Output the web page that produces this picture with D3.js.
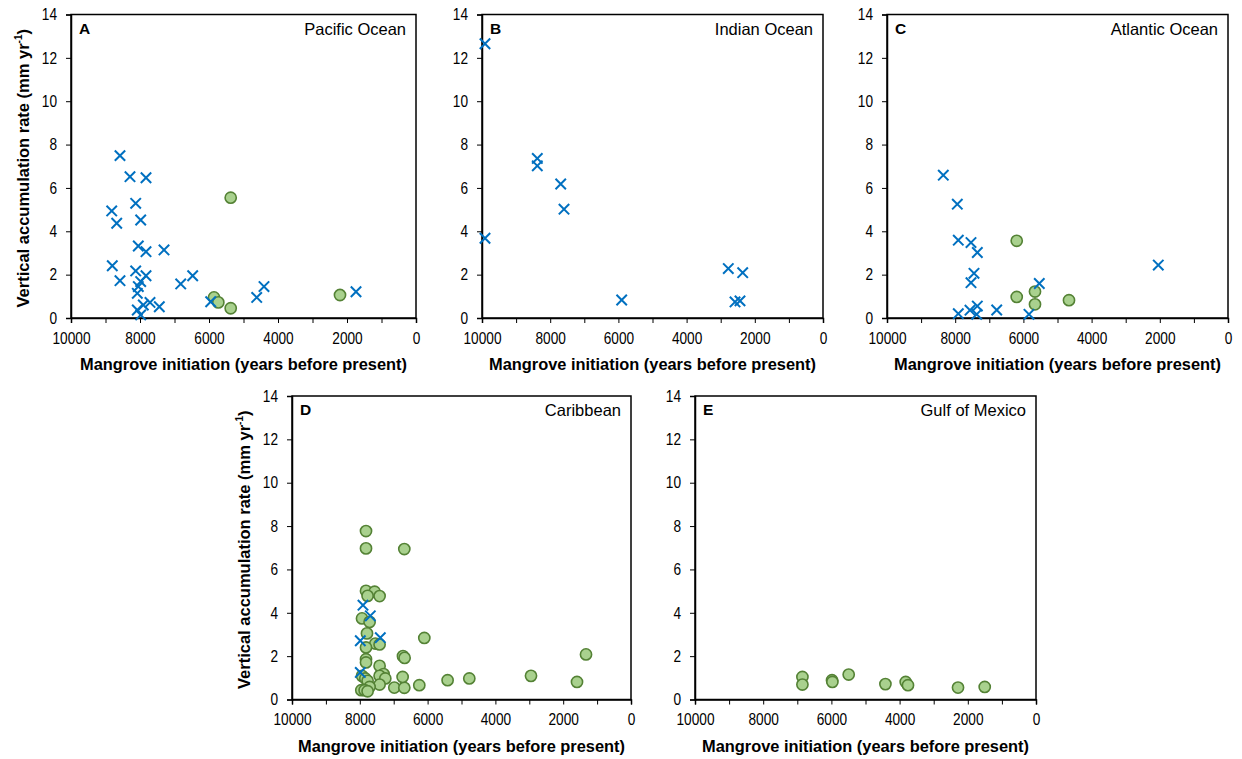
<!DOCTYPE html>
<html>
<head>
<meta charset="utf-8">
<script src="https://cdn.jsdelivr.net/npm/d3@7"></script>
<style>
  body { margin: 0; background: #fff; }
  svg { display: block; }
  text { font-family: "Liberation Sans", Arial, sans-serif; }
</style>
</head>
<body>
<svg id="chart" width="1242" height="759"></svg>
<script>
// ---- Data (years before present, mm/yr) ----
const panelLetters = ["A", "B", "C", "D", "E"];
const regionNames = ["Pacific Ocean", "Indian Ocean", "Atlantic Ocean", "Caribbean", "Gulf of Mexico"];
const xTickValues = [10000, 9000, 8000, 7000, 6000, 5000, 4000, 3000, 2000, 1000, 0];
const yTickValues = [0, 2, 4, 6, 8, 10, 12, 14];

// Pacific Ocean
const pacificCrossAge  = [8580, 8290, 7826, 8125, 8820, 8675, 7980, 8049, 7826, 7304, 8803, 8580, 8125, 7826, 7980, 8049, 8078, 7710, 7904, 8078, 7980, 7440, 6820, 6473, 5951, 4617, 4406, 1739];
const pacificCrossRate = [7.49, 6.52, 6.47, 5.29, 4.94, 4.37, 4.52, 3.32, 3.06, 3.14, 2.41, 1.72, 2.17, 1.95, 1.68, 1.45, 1.14, 0.72, 0.60, 0.37, 0.14, 0.52, 1.57, 1.95, 0.75, 0.95, 1.45, 1.21];
const pacificCircleAge  = [5371, 5855, 5730, 5371, 2203];
const pacificCircleRate = [5.55, 0.95, 0.72, 0.45, 1.06];

// Indian Ocean
const indianCrossAge  = [9912, 9912, 8378, 8378, 7692, 7595, 5904, 2777, 2355, 2580, 2434];
const indianCrossRate = [12.65, 3.68, 7.36, 7.02, 6.18, 5.02, 0.83, 2.28, 2.09, 0.74, 0.79];
const indianCircleAge  = [];
const indianCircleRate = [];

// Atlantic Ocean
const atlanticCrossAge  = [8349, 7938, 7909, 7537, 7351, 7449, 7537, 5534, 2044, 7909, 7566, 7351, 7370, 6783, 5836];
const atlanticCrossRate = [6.59, 5.25, 3.59, 3.48, 3.02, 2.06, 1.63, 1.59, 2.44, 0.20, 0.36, 0.55, 0.17, 0.37, 0.17];
const atlanticCircleAge  = [6196, 6196, 5660, 5660, 4663];
const atlanticCircleRate = [3.56, 0.97, 1.22, 0.63, 0.82];

// Caribbean
const caribbeanCrossAge  = [7906, 7690, 7985, 7395, 7985];
const caribbeanCrossRate = [4.35, 3.86, 2.71, 2.85, 1.25];
const caribbeanCircleAge  = [7817, 7817, 6687, 7817, 7563, 7770, 7416, 7935, 7711, 7788, 7543, 7416, 7817, 6097, 7817, 7817, 7416, 6726, 6678, 7298, 7416, 7248, 7935, 7838, 7770, 7416, 7711, 7956, 7858, 7770, 6982, 6687, 6737, 6245, 5410, 4770, 2950, 1593, 1327];
const caribbeanCircleRate = [7.77, 6.97, 6.94, 5.01, 4.97, 4.78, 4.77, 3.74, 3.58, 3.05, 2.58, 2.54, 2.40, 2.84, 1.86, 1.71, 1.55, 2.00, 1.92, 1.17, 1.09, 0.97, 1.09, 0.97, 0.86, 0.69, 0.58, 0.43, 0.43, 0.38, 0.55, 0.54, 1.04, 0.66, 0.89, 0.97, 1.09, 0.81, 2.08];

// Gulf of Mexico
const gulfCrossAge  = [];
const gulfCrossRate = [];
const gulfCircleAge  = [6850, 6850, 5982, 5971, 5493, 4416, 3821, 3754, 2287, 1504];
const gulfCircleRate = [1.04, 0.69, 0.89, 0.81, 1.15, 0.71, 0.81, 0.66, 0.55, 0.58];

const crossAges  = [pacificCrossAge, indianCrossAge, atlanticCrossAge, caribbeanCrossAge, gulfCrossAge];
const crossRates = [pacificCrossRate, indianCrossRate, atlanticCrossRate, caribbeanCrossRate, gulfCrossRate];
const circleAges  = [pacificCircleAge, indianCircleAge, atlanticCircleAge, caribbeanCircleAge, gulfCircleAge];
const circleRates = [pacificCircleRate, indianCircleRate, atlanticCircleRate, caribbeanCircleRate, gulfCircleRate];

// ---- Layout ----
const frames = [
  {x0: 71,  x1: 416,  y0: 14.5, y1: 318,   ylabel: true},
  {x0: 482, x1: 823,  y0: 14.5, y1: 318,   ylabel: false},
  {x0: 887, x1: 1228, y0: 14.5, y1: 318,   ylabel: false},
  {x0: 292, x1: 631,  y0: 396,  y1: 699.5, ylabel: true},
  {x0: 695, x1: 1036, y0: 396,  y1: 699.5, ylabel: false}
];

const svg = d3.select("#chart");
const blue = "#0070C0";
const greenFill = "#A9D18E";
const greenStroke = "#548235";

function styleTickText(sel) {
  sel.attr("font-size", 16.5).attr("fill", "#000")
    .attr("lengthAdjust", "spacingAndGlyphs")
    .each(function () {
      const t = d3.select(this).text();
      if (t.length) d3.select(this).attr("textLength", t.length * 7.6);
    });
}

frames.forEach((f, i) => {
  const x = d3.scaleLinear().domain([10000, 0]).range([f.x0, f.x1]);
  const y = d3.scaleLinear().domain([0, 14]).range([f.y1, f.y0]);
  const g = svg.append("g");

  // frame
  g.append("rect")
    .attr("x", f.x0).attr("y", f.y0)
    .attr("width", f.x1 - f.x0).attr("height", f.y1 - f.y0)
    .attr("fill", "none").attr("stroke", "#000").attr("stroke-width", 1.5);

  // x axis
  const xAxis = d3.axisBottom(x).tickValues(xTickValues).tickSize(5).tickPadding(9)
    .tickFormat(d => (d % 2000 === 0 ? String(d) : ""));
  const gx = g.append("g").attr("transform", `translate(0,${f.y1})`).call(xAxis);
  gx.select(".domain").attr("stroke", "#000").attr("stroke-width", 1.5);
  gx.selectAll(".tick line").attr("stroke", "#000").attr("stroke-width", 1);
  styleTickText(gx.selectAll(".tick text"));

  // y axis
  const yAxis = d3.axisLeft(y).tickValues(yTickValues).tickSize(5).tickPadding(9);
  const gy = g.append("g").attr("transform", `translate(${f.x0},0)`).call(yAxis);
  gy.select(".domain").attr("stroke", "#000").attr("stroke-width", 1.5);
  gy.selectAll(".tick line").attr("stroke", "#000").attr("stroke-width", 1);
  styleTickText(gy.selectAll(".tick text"));

  // x label
  g.append("text")
    .attr("x", (f.x0 + f.x1) / 2).attr("y", f.y1 + 52)
    .attr("text-anchor", "middle")
    .attr("font-size", 16.4).attr("font-weight", "bold")
    .text("Mangrove initiation (years before present)");

  // y label
  if (f.ylabel) {
    const cy = (f.y0 + f.y1) / 2;
    const t = g.append("text")
      .attr("transform", `translate(${f.x0 - 42},${cy + 2}) rotate(-90)`)
      .attr("text-anchor", "middle")
      .attr("font-size", 16.5).attr("font-weight", "bold");
    t.append("tspan").text("Vertical accumulation rate (mm yr");
    t.append("tspan").attr("font-size", 10).attr("dy", -7).text("-1");
    t.append("tspan").attr("dy", 7).text(")");
  }

  // panel letter
  g.append("text")
    .attr("x", f.x0 + 8).attr("y", f.y0 + 19)
    .attr("font-size", 15.5).attr("font-weight", "bold")
    .text(panelLetters[i]);

  // region name
  g.append("text")
    .attr("x", f.x1 - 10).attr("y", f.y0 + 20)
    .attr("text-anchor", "end")
    .attr("font-size", 16.5)
    .text(regionNames[i]);

  // circles
  const circ = circleAges[i].map((a, k) => ({a, r: circleRates[i][k]}));
  g.selectAll("circle.pt").data(circ).join("circle")
    .attr("class", "pt")
    .attr("cx", d => x(d.a)).attr("cy", d => y(d.r))
    .attr("r", 5.6)
    .attr("fill", greenFill).attr("stroke", greenStroke).attr("stroke-width", 1.6);

  // crosses
  const cr = crossAges[i].map((a, k) => ({a, r: crossRates[i][k]}));
  const s = 5.2;
  g.selectAll("path.cross").data(cr).join("path")
    .attr("class", "cross")
    .attr("d", d => {
      const cx = x(d.a), cy = y(d.r);
      return `M${cx - s},${cy - s}L${cx + s},${cy + s}M${cx - s},${cy + s}L${cx + s},${cy - s}`;
    })
    .attr("fill", "none").attr("stroke", blue).attr("stroke-width", 2);
});
</script>
</body>
</html>
